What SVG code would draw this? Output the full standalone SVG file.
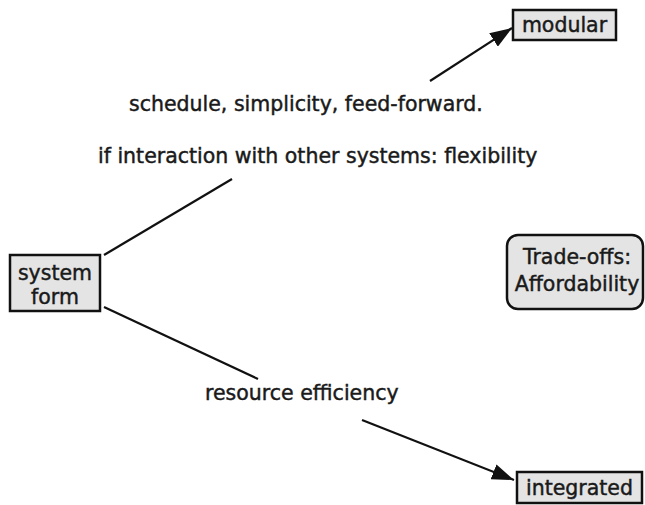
<svg xmlns="http://www.w3.org/2000/svg" width="645" height="505" viewBox="0 0 645 505">
<style>
.box{fill:#e4e4e4;stroke:#111;stroke-width:2.5}
.t{font-family:"DejaVu Sans","Verdana",sans-serif;font-size:20.5px;fill:#1a1a1a;stroke:#1a1a1a;stroke-width:0.45}
.n{font-family:"DejaVu Sans","Verdana",sans-serif;font-size:20.5px;fill:#1a1a1a;stroke:#1a1a1a;stroke-width:0.45;text-anchor:middle}
.c{stroke:#111;stroke-width:2.2;fill:none}
</style>
<defs>
<marker id="ah" viewBox="0 0 22 16" refX="22" refY="8" markerWidth="22" markerHeight="16" markerUnits="userSpaceOnUse" orient="auto">
<path d="M0,0 L22,8 L0,16 z" fill="#111"/>
</marker>
</defs>
<g id="connectors">
<line class="c" x1="104" y1="255" x2="232" y2="179"/>
<line class="c" x1="104" y1="307" x2="258" y2="379"/>
<line class="c" x1="430" y1="81" x2="512" y2="28" marker-end="url(#ah)"/>
<line class="c" x1="362" y1="420" x2="514" y2="480" marker-end="url(#ah)"/>
</g>
<g id="labels">
<text class="t" x="129" y="111">schedule, simplicity, feed-forward.</text>
<text class="t" x="98" y="163">if interaction with other systems: flexibility</text>
<text class="t" x="205" y="400">resource efficiency</text>
</g>
<g id="modular">
<rect class="box" x="513" y="10" width="103" height="30"/>
<text class="n" x="564.5" y="32">modular</text>
</g>
<g id="system-form">
<rect class="box" x="10" y="255" width="90" height="56"/>
<text class="n" x="55" y="280">system</text>
<text class="n" x="55" y="304">form</text>
</g>
<g id="integrated">
<rect class="box" x="517" y="472" width="125" height="31"/>
<text class="n" x="579.5" y="495">integrated</text>
</g>
<g id="tradeoffs">
<rect class="box" x="507" y="235" width="136" height="74" rx="11"/>
<text class="n" x="577" y="264">Trade-offs:</text>
<text class="n" x="577" y="291">Affordability</text>
</g>
</svg>
